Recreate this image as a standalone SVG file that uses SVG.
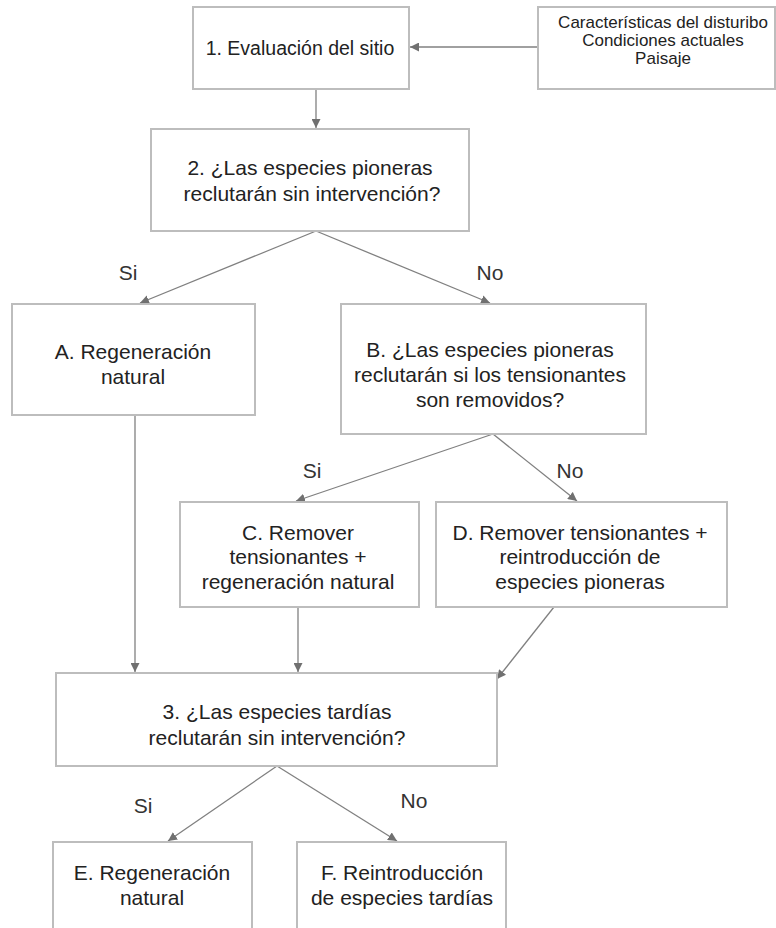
<svg xmlns="http://www.w3.org/2000/svg" width="776" height="928" viewBox="0 0 776 928">
<style>
.box{fill:#fff;stroke:#bdbdbd;stroke-width:2}
.t{font-family:"Liberation Sans",Arial,sans-serif;font-size:21px;fill:#222;text-anchor:middle}
.t1{font-family:"Liberation Sans",Arial,sans-serif;font-size:19.5px;fill:#222;text-anchor:middle}
.s{font-family:"Liberation Sans",Arial,sans-serif;font-size:17px;fill:#222;text-anchor:middle}
.lbl{font-family:"Liberation Sans",Arial,sans-serif;font-size:21px;fill:#333;text-anchor:middle}
.c{stroke:#808080;stroke-width:1.3;fill:none;marker-end:url(#ah)}
</style>
<defs>
<marker id="ah" viewBox="0 0 10 10" refX="10" refY="5" markerWidth="9" markerHeight="9" markerUnits="userSpaceOnUse" orient="auto">
<path d="M0,0 L10,5 L0,10 Z" fill="#707070"/>
</marker>
</defs>
<rect width="776" height="928" fill="#fff"/>
<g id="connectors">
<line class="c" x1="538" y1="47" x2="410" y2="47"/>
<line class="c" x1="316" y1="89" x2="316" y2="128"/>
<line class="c" x1="316" y1="231" x2="140" y2="303"/>
<line class="c" x1="316" y1="231" x2="490" y2="303"/>
<line class="c" x1="493" y1="434" x2="296" y2="501"/>
<line class="c" x1="493" y1="434" x2="577" y2="501"/>
<line class="c" x1="135" y1="415" x2="135" y2="672"/>
<line class="c" x1="298" y1="607" x2="298" y2="672"/>
<line class="c" x1="554" y1="607" x2="497" y2="679"/>
<line class="c" x1="277" y1="766" x2="168" y2="841"/>
<line class="c" x1="277" y1="766" x2="397" y2="841"/>
<text class="lbl" x="128" y="280">Si</text>
<text class="lbl" x="490" y="280">No</text>
<text class="lbl" x="312" y="478">Si</text>
<text class="lbl" x="570" y="478">No</text>
<text class="lbl" x="143" y="813">Si</text>
<text class="lbl" x="414" y="808">No</text>
</g>
<g id="n1">
<rect class="box" x="193" y="7" width="216" height="82"/>
<text class="t1" x="300" y="55">1. Evaluación del sitio</text>
</g>
<g id="ctx">
<rect class="box" x="538" y="7" width="237" height="82"/>
<text class="s" x="663" y="28">Características del disturibo</text>
<text class="s" x="663" y="46">Condiciones actuales</text>
<text class="s" x="663" y="64">Paisaje</text>
</g>
<g id="n2">
<rect class="box" x="151" y="129" width="318" height="102"/>
<text class="t" x="310" y="175">2. ¿Las especies pioneras</text>
<text class="t" x="312" y="201">reclutarán sin intervención?</text>
</g>
<g id="nA">
<rect class="box" x="12" y="304" width="243" height="111"/>
<text class="t" x="133" y="359">A. Regeneración</text>
<text class="t" x="133" y="384">natural</text>
</g>
<g id="nB">
<rect class="box" x="341" y="304" width="305" height="130"/>
<text class="t" x="490" y="357">B. ¿Las especies pioneras</text>
<text class="t" x="490" y="382">reclutarán si los tensionantes</text>
<text class="t" x="490" y="407">son removidos?</text>
</g>
<g id="nC">
<rect class="box" x="180" y="502" width="239" height="105"/>
<text class="t" x="298" y="540">C. Remover</text>
<text class="t" x="298" y="564">tensionantes +</text>
<text class="t" x="298" y="589">regeneración natural</text>
</g>
<g id="nD">
<rect class="box" x="436" y="502" width="291" height="105"/>
<text class="t" x="580" y="540">D. Remover tensionantes +</text>
<text class="t" x="580" y="564">reintroducción de</text>
<text class="t" x="580" y="589">especies pioneras</text>
</g>
<g id="n3">
<rect class="box" x="56" y="673" width="441" height="93"/>
<text class="t" x="277" y="719">3. ¿Las especies tardías</text>
<text class="t" x="277" y="745">reclutarán sin intervención?</text>
</g>
<g id="nE">
<rect class="box" x="53" y="842" width="199" height="100"/>
<text class="t" x="152" y="880">E. Regeneración</text>
<text class="t" x="152" y="905">natural</text>
</g>
<g id="nF">
<rect class="box" x="297" y="842" width="209" height="100"/>
<text class="t" x="402" y="880">F. Reintroducción</text>
<text class="t" x="402" y="905">de especies tardías</text>
</g>
</svg>
